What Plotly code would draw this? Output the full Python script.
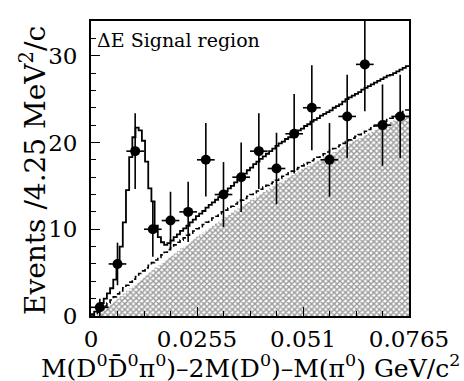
import numpy as np
import plotly.graph_objects as go

# Signal-region data: events per 4.25 MeV/c^2 bin
counts = [1, 6, 19, 10, 11, 12, 18, 14, 16, 19, 17, 21, 24, 18, 23, 29, 22, 23]
count_err = [1.0, 2.45, 4.36, 3.16, 3.32, 3.46, 4.24, 3.74, 4.0, 4.36,
             4.12, 4.58, 4.9, 4.24, 4.8, 5.39, 4.69, 4.8]

# Fit curves, sampled in 100 fine bins over the full range
total_fit = [
    0.2, 0.5, 1.0, 1.5, 2.0, 2.6, 3.2, 4.2, 6.0, 8.0,
    10.8, 14.5, 18.3, 20.6, 21.7, 21.4, 20.2, 17.8, 14.7, 13.2,
    10.4, 9.1, 8.5, 8.2, 8.4, 8.7, 9.1, 9.4, 9.8, 10.1,
    10.4, 10.8, 11.1, 11.5, 11.8, 12.1, 12.5, 12.8, 13.1, 13.4,
    13.7, 14.1, 14.4, 14.7, 15.0, 15.4, 15.7, 16.1, 16.4, 16.8,
    17.1, 17.5, 17.8, 18.1, 18.4, 18.7, 19.0, 19.3, 19.6, 19.9,
    20.1, 20.4, 20.6, 20.9, 21.1, 21.4, 21.6, 21.9, 22.1, 22.4,
    22.6, 22.8, 23.1, 23.3, 23.5, 23.7, 24.0, 24.2, 24.4, 24.7,
    25.0, 25.2, 25.4, 25.6, 25.8, 26.1, 26.3, 26.5, 26.7, 26.9,
    27.1, 27.3, 27.5, 27.7, 27.8, 28.0, 28.2, 28.4, 28.6, 28.8,
]
bkg_fit = [
    0.0, 0.1, 0.45, 0.8, 1.15, 1.5, 1.85, 2.2, 2.55, 2.9,
    3.25, 3.55, 3.9, 4.25, 4.55, 4.9, 5.2, 5.55, 5.85, 6.15,
    6.45, 6.75, 7.05, 7.35, 7.65, 7.9, 8.2, 8.5, 8.75, 9.0,
    9.3, 9.55, 9.8, 10.05, 10.3, 10.55, 10.8, 11.05, 11.3, 11.5,
    11.75, 12.0, 12.2, 12.45, 12.65, 12.9, 13.1, 13.35, 13.55, 13.8,
    14.0, 14.2, 14.4, 14.6, 14.85, 15.05, 15.25, 15.45, 15.65, 15.85,
    16.1, 16.3, 16.5, 16.7, 16.9, 17.1, 17.3, 17.5, 17.7, 17.9,
    18.1, 18.3, 18.5, 18.7, 18.9, 19.1, 19.3, 19.5, 19.7, 19.9,
    20.1, 20.3, 20.5, 20.7, 20.9, 21.1, 21.3, 21.5, 21.7, 21.9,
    22.05, 22.25, 22.45, 22.65, 22.8, 23.0, 23.2, 23.4, 23.55, 23.75,
]
sideband = [
    0.0, 0.0, 0.25, 0.55, 0.85, 1.1, 1.4, 1.7, 2.0, 2.3,
    2.6, 2.9, 3.2, 3.5, 3.8, 4.1, 4.4, 4.7, 5.0, 5.3,
    5.6, 5.85, 6.1, 6.4, 6.7, 6.95, 7.2, 7.5, 7.8, 8.05,
    8.3, 8.6, 8.9, 9.15, 9.4, 9.65, 9.9, 10.15, 10.4, 10.65,
    10.9, 11.15, 11.4, 11.65, 11.9, 12.15, 12.4, 12.65, 12.9, 13.15,
    13.4, 13.6, 13.85, 14.05, 14.3, 14.5, 14.75, 14.95, 15.2, 15.4,
    15.6, 15.85, 16.05, 16.25, 16.45, 16.7, 16.9, 17.1, 17.3, 17.5,
    17.7, 17.9, 18.1, 18.3, 18.5, 18.7, 18.9, 19.1, 19.3, 19.5,
    19.7, 19.9, 20.1, 20.3, 20.5, 20.7, 20.85, 21.05, 21.25, 21.45,
    21.6, 21.8, 22.0, 22.2, 22.35, 22.55, 22.75, 22.9, 23.1, 23.3,
]

x_ticks = [0, 0.0255, 0.051, 0.0765]
x_tick_labels = ["0", "0.0255", "0.051", "0.0765"]

X_MAX = 0.0765
BIN_W = 0.00425
centers = BIN_W * (np.arange(len(counts)) + 0.5)
fine_edges = np.linspace(0.0, X_MAX, len(total_fit) + 1)


def outline(vals):
    """Step-histogram outline: repeat the last bin value at the final edge."""
    return list(vals) + [vals[-1]]


SERIF = "DejaVu Serif"

fig = go.Figure()

# hatched component
fig.add_trace(go.Scatter(
    x=fine_edges, y=outline(sideband), mode="lines",
    line=dict(width=0, shape="hv"),
    fill="tozeroy",
    fillcolor="white",
    fillpattern=dict(shape="x", size=4, solidity=0.6,
                     fgcolor="#333333", bgcolor="white"),
    hoverinfo="skip", showlegend=False,
))

# background fit (dashed)
fig.add_trace(go.Scatter(
    x=fine_edges, y=outline(bkg_fit), mode="lines",
    line=dict(color="black", width=1.6, dash="5px,3px", shape="hv"),
    showlegend=False,
))

# total fit (solid)
fig.add_trace(go.Scatter(
    x=fine_edges, y=outline(total_fit), mode="lines",
    line=dict(color="black", width=1.8, shape="hv"),
    showlegend=False,
))

# data points
fig.add_trace(go.Scatter(
    x=centers, y=counts, mode="markers",
    marker=dict(color="black", size=10),
    error_y=dict(type="data", array=count_err, color="black",
                 thickness=1.6, width=0),
    error_x=dict(type="constant", value=BIN_W / 2, color="black",
                 thickness=1.6, width=0),
    showlegend=False,
))

axis_common = dict(
    showgrid=False, zeroline=False,
    showline=True, linecolor="black", linewidth=1.8, mirror=True,
    ticks="inside", ticklen=9, tickwidth=1.4, tickcolor="black",
    tickfont=dict(family=SERIF, size=23, color="black"),
)

fig.update_xaxes(
    range=[0, X_MAX], tickmode="array", tickvals=x_ticks, ticktext=x_tick_labels,
    minor=dict(dtick=X_MAX / 12, tick0=0, ticks="inside", ticklen=5,
               tickwidth=1.4, tickcolor="black", showgrid=False),
    ticklabelstandoff=1,
    **axis_common,
)
fig.update_yaxes(
    range=[0, 34], tick0=0, dtick=10,
    minor=dict(dtick=2, tick0=0, ticks="inside", ticklen=5,
               tickwidth=1.4, tickcolor="black", showgrid=False),
    ticklabelstandoff=7,
    **axis_common,
)

L, R, T, B = 91, 55, 21, 65
PW, PH = 464 - L - R, 381 - T - B

fig.add_annotation(
    text="Events /4.25 MeV<sup>2</sup>/c", textangle=-90,
    xref="paper", yref="paper", x=(33 - L) / PW, y=(316 - 171) / PH,
    xanchor="center", yanchor="middle", showarrow=False,
    font=dict(family=SERIF, size=28, color="black"),
)
fig.add_annotation(
    text="M(D<sup>0</sup>D\u0304<sup>0</sup>\u03c0<sup>0</sup>)\u20132M(D<sup>0</sup>)"
         "\u2013M(\u03c0<sup>0</sup>) GeV/c<sup>2</sup>",
    xref="paper", yref="paper", x=(250 - L) / PW, y=-(366 - 316) / PH,
    xanchor="center", yanchor="middle", showarrow=False,
    font=dict(family=SERIF, size=25, color="black"),
)
fig.add_annotation(
    text="\u0394E Signal region",
    xref="paper", yref="paper", x=(95 - L) / PW, y=(316 - 40) / PH,
    xanchor="left", yanchor="middle", showarrow=False,
    font=dict(family=SERIF, size=19, color="black"),
)

fig.update_layout(
    width=464, height=381,
    margin=dict(l=L, r=R, t=T, b=B, pad=0),
    paper_bgcolor="white", plot_bgcolor="white",
    showlegend=False,
)

fig.write_html("out.html")
